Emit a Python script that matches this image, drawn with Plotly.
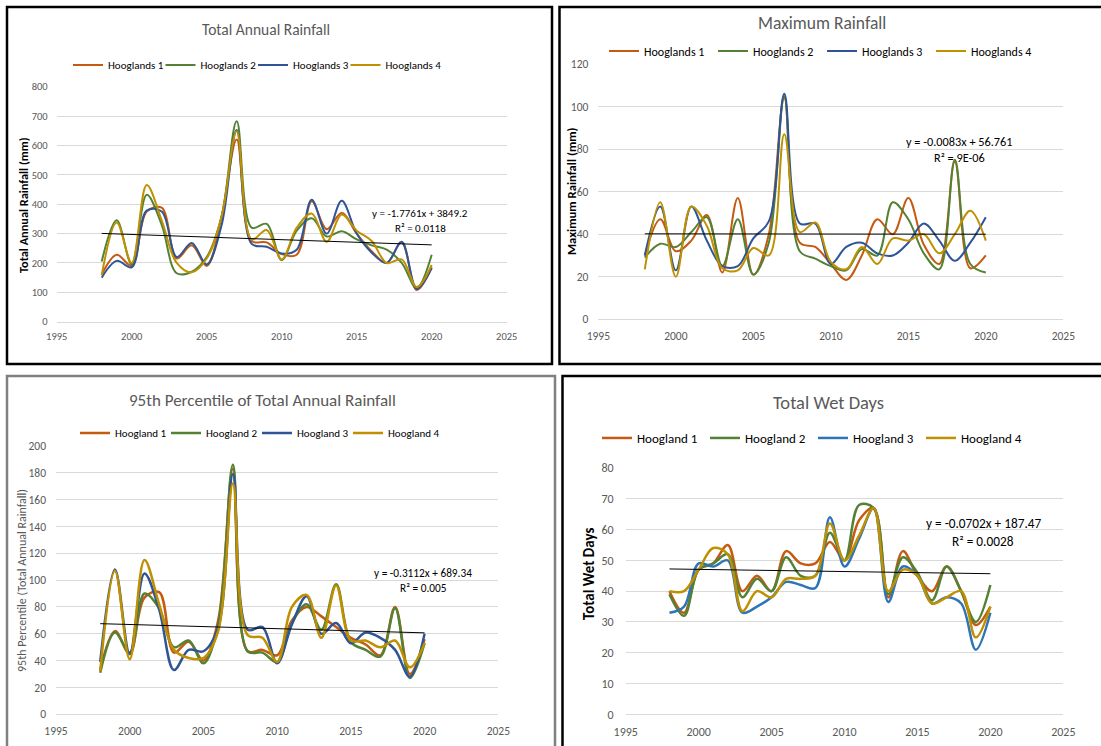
import plotly.graph_objects as go

# ---------------- DATA ----------------
years = list(range(1998, 2021))

# Panel 1: Total Annual Rainfall (mm)
tar_names = ["Hooglands 1", "Hooglands 2", "Hooglands 3", "Hooglands 4"]
tar_h1 = [160, 228, 190, 375, 388, 215, 260, 190, 360, 620, 275, 270, 230, 228, 410, 315, 370, 300, 240, 200, 270, 108, 185]
tar_h2 = [205, 345, 195, 432, 330, 165, 170, 220, 360, 682, 320, 333, 210, 310, 352, 290, 308, 280, 260, 245, 200, 115, 228]
tar_h3 = [150, 207, 185, 378, 375, 220, 268, 195, 330, 653, 265, 255, 232, 245, 415, 300, 412, 300, 235, 200, 272, 112, 183]
tar_h4 = [158, 338, 200, 465, 345, 200, 168, 215, 360, 648, 280, 312, 212, 320, 368, 272, 365, 310, 275, 200, 212, 118, 193]
tar_trend = (-1.7761, 3849.2)
tar_eq = ["y = -1.7761x + 3849.2", "R² = 0.0118"]

# Panel 2: Maximum Rainfall (mm)
mr_names = ["Hooglands 1", "Hooglands 2", "Hooglands 3", "Hooglands 4"]
mr_h1 = [30, 47, 32, 37, 49, 22, 57, 21, 40, 104, 36, 34, 26, 18.5, 30, 47, 40, 57, 35, 26, 74, 24, 30]
mr_h2 = [29, 35.5, 34, 41, 48, 25, 47, 21, 36, 105, 32, 28.5, 25, 23, 33, 30, 55, 47, 31, 23.5, 75, 26, 22]
mr_h3 = [30, 53, 23, 53, 37, 25, 25, 38, 46, 106, 45, 45, 26, 34, 36, 31, 30, 36, 45, 37, 27.5, 36, 48]
mr_h4 = [23.5, 55, 20, 53, 44, 24, 23, 33.5, 30, 87, 41, 45.5, 27, 23.5, 34, 26, 38, 37, 40, 31, 40, 51, 37]
mr_trend = (-0.0083, 56.761)
mr_eq = ["y = -0.0083x + 56.761", "R² = 9E-06"]

# Panel 3: 95th Percentile of Total Annual Rainfall
p95_names = ["Hoogland 1", "Hoogland 2", "Hoogland 3", "Hoogland 4"]
p95_h1 = [33, 62, 45, 87, 91, 46, 54, 40, 70, 183, 47, 48, 44, 70, 80, 73, 65, 57, 52, 44, 80, 30, 56]
p95_h2 = [31, 61, 46, 90, 79, 50, 55, 38, 67, 186, 47, 46, 39, 68, 82, 63, 97, 54, 48, 43, 79, 27, 53]
p95_h3 = [39, 108, 45, 105, 78, 33, 48, 47, 65, 179, 63, 65, 38, 67, 88, 60, 68, 53, 61, 57, 48, 28, 60]
p95_h4 = [32, 107, 41, 115, 82, 48, 42, 42, 62, 172, 59, 57, 39, 80, 89, 57, 96, 55, 55, 50, 55, 35, 53]
p95_trend = (-0.3112, 689.34)
p95_eq = ["y = -0.3112x + 689.34", "R² = 0.005"]

# Panel 4: Total Wet Days
twd_names = ["Hoogland 1", "Hoogland 2", "Hoogland 3", "Hoogland 4"]
twd_h1 = [40, 33, 47, 49, 55, 40, 45, 40, 53, 49, 49, 56, 50, 63, 67, 38, 53, 45, 40, 48, 40, 29, 35]
twd_h2 = [39, 32, 47, 49, 52, 38, 44, 40, 51, 45, 45, 59, 50, 68, 67, 39, 51, 46, 37, 48, 40, 30, 42]
twd_h3 = [33, 35, 49, 48, 50, 33, 35, 38, 43, 42, 41, 64, 48, 57, 67, 36.5, 48, 45, 36, 38, 36, 21, 33]
twd_h4 = [40, 40, 47, 54, 52, 33.5, 40, 38, 44, 44, 45, 62, 50, 58, 67, 40, 47, 45, 36, 38, 40, 25, 35]
twd_trend = (-0.0702, 187.47)
twd_eq = ["y = -0.0702x + 187.47", "R² = 0.0028"]

# ---------------- LAYOUT HELPERS ----------------
W, H = 1101, 746
FONT = "Calibri, Carlito, Lato, sans-serif"
GRAY = "#595959"


def fx(p):
    return p / W


def fy(p):
    return 1 - p / H


panels = [
    dict(title="Total Annual Rainfall", names=tar_names, series=[tar_h1, tar_h2, tar_h3, tar_h4],
         colors=["#C55A11", "#548235", "#2F5597", "#BF9000"], width=2.0,
         trend=tar_trend, eq=tar_eq, ytitle="<b>Total Annual Rainfall (mm)</b>", ytcolor="black",
         yrange=[0, 800], dtick=100,
         dom=(56.7, 506.7, 86.7, 321.7), title_pos=(266, 29, 15.5), ytitle_pos=(23, 205, 12.3),
         eq_pos=(420, 214, 228, 11), leg=(68, 65, 11, 95.5), tick=10.5, standoff=(8, 5)),
    dict(title="Maximum Rainfall", names=mr_names, series=[mr_h1, mr_h2, mr_h3, mr_h4],
         colors=["#C55A11", "#548235", "#2F5597", "#BF9000"], width=2.0,
         trend=mr_trend, eq=mr_eq, ytitle="<b>Maximum Rainfall (mm)</b>", ytcolor="black",
         yrange=[0, 120], dtick=20,
         dom=(598.3, 1063.3, 64, 319.3), title_pos=(822, 23, 17.5), ytitle_pos=(571, 191, 12.7),
         eq_pos=(959, 141, 157, 12.3), leg=(604, 51, 12, 112), tick=11.5, standoff=(9, 6)),
    dict(title="95th Percentile of Total Annual Rainfall", names=p95_names, series=[p95_h1, p95_h2, p95_h3, p95_h4],
         colors=["#C55A11", "#548235", "#2F5597", "#BF9000"], width=2.5,
         trend=p95_trend, eq=p95_eq, ytitle="95th Percentile (Total Annual Rainfall)", ytcolor=GRAY,
         yrange=[0, 200], dtick=20,
         dom=(56, 498.3, 446, 714.3), title_pos=(262, 400, 17), ytitle_pos=(22, 581, 12),
         eq_pos=(423, 573, 588, 11.3), leg=(75, 433, 11, 94), tick=11.5, standoff=(9, 6)),
    dict(title="Total Wet Days", names=twd_names, series=[twd_h1, twd_h2, twd_h3, twd_h4],
         colors=["#C55A11", "#548235", "#2E75B6", "#BF9000"], width=2.5,
         trend=twd_trend, eq=twd_eq, ytitle="<b>Total Wet Days</b>", ytcolor="black",
         yrange=[0, 80], dtick=10,
         dom=(625.7, 1063.3, 468, 714.3), title_pos=(828, 402, 18.5), ytitle_pos=(589, 574, 15),
         eq_pos=(983, 523, 541, 13.3), leg=(597, 438, 13, 111), tick=12, standoff=(11, 6)),
]

fig = go.Figure()
annotations = []
shapes = []
layout = {}

for i, p in enumerate(panels, start=1):
    sfx = "" if i == 1 else str(i)
    xa, ya = "x" + sfx, "y" + sfx
    lg = "legend" + sfx
    for name, vals, col in zip(p["names"], p["series"], p["colors"]):
        fig.add_trace(go.Scatter(x=years, y=vals, name=name, mode="lines",
                                 line=dict(color=col, width=p["width"], shape="spline", smoothing=1.0),
                                 xaxis=xa, yaxis=ya, legend=lg))
    # invisible spacer entry so the last legend label is not clipped
    fig.add_trace(go.Scatter(x=[None], y=[None], name="", mode="lines", line=dict(width=0, color="white"),
                             xaxis=xa, yaxis=ya, legend=lg, hoverinfo="skip"))
    slope, icpt = p["trend"]
    tx = [years[0], years[-1]]
    fig.add_trace(go.Scatter(x=tx, y=[slope * v + icpt for v in tx], mode="lines",
                             line=dict(color="black", width=1), showlegend=False,
                             xaxis=xa, yaxis=ya, hoverinfo="skip"))
    x0, x1, y0, y1 = p["dom"]
    ysd, xsd = p["standoff"]
    layout["xaxis" + sfx] = dict(domain=[fx(x0), fx(x1)], range=[1995, 2025], dtick=5, anchor=ya,
                                 showgrid=False, zeroline=False, showline=True, linecolor="#D9D9D9",
                                 linewidth=1, ticks="", automargin=False, ticklabelstandoff=xsd,
                                 tickfont=dict(family=FONT, size=p["tick"], color=GRAY))
    layout["yaxis" + sfx] = dict(domain=[fy(y1), fy(y0)], range=p["yrange"], dtick=p["dtick"], anchor=xa,
                                 showgrid=True, gridcolor="#D9D9D9", gridwidth=1, zeroline=False,
                                 showline=False, ticks="", automargin=False, ticklabelstandoff=ysd,
                                 tickfont=dict(family=FONT, size=p["tick"], color=GRAY))
    lx, ly, lsz, ew = p["leg"]
    layout[lg] = dict(orientation="h", x=fx(lx), y=fy(ly), xanchor="left", yanchor="middle",
                      bgcolor="rgba(0,0,0,0)", font=dict(family=FONT, size=lsz, color="black"),
                      itemwidth=30, entrywidth=ew - 48, entrywidthmode="pixels", itemclick=False)
    tx_, ty_, tsz = p["title_pos"]
    annotations.append(dict(text=p["title"], x=fx(tx_), y=fy(ty_), xref="paper", yref="paper",
                            showarrow=False, xanchor="center", yanchor="middle",
                            font=dict(family=FONT, size=tsz, color=GRAY)))
    ax_, ay_, asz = p["ytitle_pos"]
    annotations.append(dict(text=p["ytitle"], x=fx(ax_), y=fy(ay_), xref="paper", yref="paper",
                            showarrow=False, textangle=-90, xanchor="center", yanchor="middle",
                            font=dict(family=FONT, size=asz, color=p["ytcolor"])))
    ex, ey1, ey2, esz = p["eq_pos"]
    for txt, yy in zip(p["eq"], [ey1, ey2]):
        annotations.append(dict(text=txt, x=fx(ex), y=fy(yy), xref="paper", yref="paper",
                                showarrow=False, xanchor="center", yanchor="middle",
                                font=dict(family=FONT, size=esz, color="black")))

# panel borders (pixel boxes)
borders = [((7, 7, 552, 364), "#000000", 2.5),
           ((559.5, 7, 1103, 364), "#000000", 2.5),
           ((7, 376, 555, 750), "#808080", 2.5),
           ((562.5, 376, 1103, 750), "#000000", 2.5)]
for (bx0, by0, bx1, by1), col, lw in borders:
    shapes.append(dict(type="rect", xref="paper", yref="paper", x0=fx(bx0), x1=fx(bx1), y0=fy(by1), y1=fy(by0),
                       line=dict(color=col, width=lw), fillcolor="rgba(0,0,0,0)", layer="above"))

fig.update_layout(width=W, height=H, margin=dict(l=0, r=0, t=0, b=0, pad=0, autoexpand=False),
                  paper_bgcolor="white", plot_bgcolor="white", annotations=annotations, shapes=shapes,
                  showlegend=True, font=dict(family=FONT), **layout)

fig.write_html("out.html", config={"displayModeBar": False},
               post_script="document.body.style.margin='0';")
